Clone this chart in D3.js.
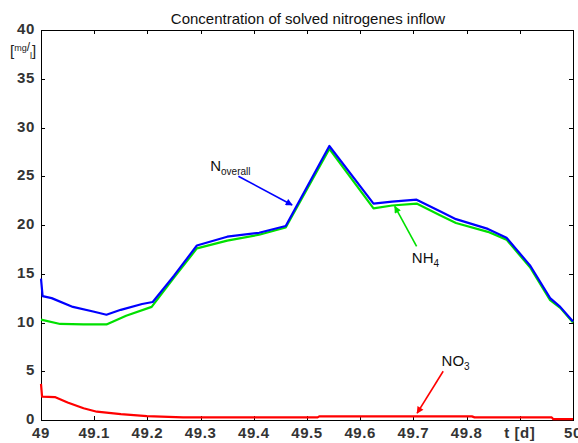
<!DOCTYPE html>
<html>
<head>
<meta charset="utf-8">
<script src="https://cdn.jsdelivr.net/npm/d3@7"></script>
<style>
  body { margin: 0; background: #fff; }
  text { font-family: Arial, "Liberation Sans", sans-serif; }
</style>
</head>
<body>
<div id="chart"></div>
<script>
// values
var tOverall = [49.0, 49.003, 49.02, 49.06, 49.1, 49.123, 49.15, 49.19, 49.21, 49.25, 49.293, 49.35, 49.41, 49.46, 49.542, 49.625, 49.66, 49.706, 49.75, 49.78, 49.84, 49.875, 49.92, 49.957, 49.976, 50.0];
var nOverall = [14.5, 12.7, 12.5, 11.6, 11.1, 10.8, 11.3, 11.9, 12.1, 14.8, 17.9, 18.8, 19.2, 19.9, 28.1, 22.2, 22.4, 22.6, 21.4, 20.6, 19.6, 18.7, 15.8, 12.5, 11.6, 10.1];

var tNH4 = [49.0, 49.036, 49.08, 49.123, 49.16, 49.208, 49.25, 49.293, 49.35, 49.41, 49.46, 49.542, 49.625, 49.66, 49.706, 49.75, 49.78, 49.84, 49.875, 49.92, 49.957, 49.976, 50.0];
var nh4 = [10.3, 9.85, 9.8, 9.8, 10.7, 11.6, 14.6, 17.6, 18.4, 19.0, 19.75, 27.8, 21.7, 22.0, 22.2, 21.0, 20.2, 19.3, 18.5, 15.6, 12.3, 11.5, 10.0];

var tNO3 = [49.0, 49.002, 49.026, 49.05, 49.08, 49.105, 49.15, 49.199, 49.267, 49.52, 49.523, 49.81, 49.815, 49.96, 49.963, 50.0];
var no3 = [3.7, 2.4, 2.35, 1.8, 1.2, 0.85, 0.6, 0.4, 0.27, 0.27, 0.37, 0.37, 0.27, 0.27, 0.08, 0.08];

var xTicks = [49, 49.1, 49.2, 49.3, 49.4, 49.5, 49.6, 49.7, 49.8, 49.9, 50];
var xTickLabels = ['49', '49.1', '49.2', '49.3', '49.4', '49.5', '49.6', '49.7', '49.8', 't [d]', '50'];
var yTicks = [0, 5, 10, 15, 20, 25, 30, 35, 40];

var W = 578, H = 443;
var margin = {left: 41, top: 30, right: 5, bottom: 23};

var svg = d3.select('#chart').append('svg')
    .attr('width', W)
    .attr('height', H);

var x = d3.scaleLinear().domain([49, 50]).range([margin.left, W - margin.right]);
var y = d3.scaleLinear().domain([0, 40]).range([H - margin.bottom, margin.top]);

// arrow heads
var defs = svg.append('defs');
[['blue', '#0000ff'], ['green', '#00e000'], ['red', '#ff0000']].forEach(function (m) {
    defs.append('marker')
        .attr('id', 'arr-' + m[0])
        .attr('viewBox', '0 0 10 10')
        .attr('refX', 9).attr('refY', 5)
        .attr('markerWidth', 8).attr('markerHeight', 7)
        .attr('markerUnits', 'userSpaceOnUse')
        .attr('orient', 'auto')
        .append('path')
        .attr('d', 'M0,0 L10,5 L0,10 z')
        .attr('fill', m[1]);
});

// box
svg.append('rect')
    .attr('x', x(49) + 0.5).attr('y', y(40) + 0.5)
    .attr('width', x(50) - x(49)).attr('height', y(0) - y(40))
    .attr('fill', 'none').attr('stroke', '#000').attr('stroke-width', 1);

// ticks, pointing inward, on all four sides
var tl = 4;
xTicks.forEach(function (t) {
    var px = Math.round(x(t)) + 0.5;
    svg.append('line').attr('x1', px).attr('x2', px).attr('y1', y(0)).attr('y2', y(0) - tl).attr('stroke', '#000');
    svg.append('line').attr('x1', px).attr('x2', px).attr('y1', y(40)).attr('y2', y(40) + tl).attr('stroke', '#000');
});
yTicks.forEach(function (v) {
    var py = Math.round(y(v)) + 0.5;
    svg.append('line').attr('x1', x(49)).attr('x2', x(49) + tl).attr('y1', py).attr('y2', py).attr('stroke', '#000');
    svg.append('line').attr('x1', x(50)).attr('x2', x(50) - tl).attr('y1', py).attr('y2', py).attr('stroke', '#000');
});

// tick labels
svg.append('g').selectAll('text')
    .data(xTicks)
    .enter().append('text')
    .attr('x', function (d) { return x(d); })
    .attr('y', y(0) + 18)
    .attr('text-anchor', 'middle')
    .attr('font-size', 15)
    .attr('font-weight', 'bold')
    .attr('letter-spacing', 0.6)
    .attr('fill', '#333')
    .text(function (d, i) { return xTickLabels[i]; });

svg.append('g').selectAll('text')
    .data(yTicks)
    .enter().append('text')
    .attr('x', x(49) - 6)
    .attr('y', function (d) { return y(d) + 4; })
    .attr('text-anchor', 'end')
    .attr('font-size', 15)
    .attr('font-weight', 'bold')
    .attr('letter-spacing', 0.6)
    .attr('fill', '#333')
    .text(function (d) { return d; });

// unit label [mg/l]
var unit = svg.append('text')
    .attr('x', 10).attr('y', 56)
    .attr('font-size', 15)
    .attr('fill', '#222');
unit.append('tspan').text('[');
unit.append('tspan').attr('font-size', 9).attr('dy', -5).text('mg');
unit.append('tspan').attr('font-size', 12).text('/');
unit.append('tspan').attr('font-size', 9).attr('dy', 8).text('l');
unit.append('tspan').attr('dy', -3).text(']');

// title
svg.append('text')
    .attr('x', (x(49) + x(50)) / 2 + 1)
    .attr('y', 24)
    .attr('text-anchor', 'middle')
    .attr('font-size', 15)
    .attr('fill', '#111')
    .text('Concentration of solved nitrogenes inflow');

// series
var line = d3.line()
    .x(function (d) { return x(d[0]); })
    .y(function (d) { return y(d[1]); });

function drawSeries(ts, vs, color) {
    svg.append('path')
        .datum(d3.zip(ts, vs))
        .attr('d', line)
        .attr('fill', 'none')
        .attr('stroke', color)
        .attr('stroke-width', 2.2)
        .attr('stroke-linejoin', 'round');
}
drawSeries(tNH4, nh4, '#00e000');
drawSeries(tOverall, nOverall, '#0000ff');
drawSeries(tNO3, no3, '#ff0000');

// annotations
function annotate(arrow, color, id, label, sub, tx, ty) {
    svg.append('line')
        .attr('x1', x(arrow[0])).attr('y1', y(arrow[1]))
        .attr('x2', x(arrow[2])).attr('y2', y(arrow[3]))
        .attr('stroke', color).attr('stroke-width', 1.6)
        .attr('marker-end', 'url(#arr-' + id + ')');
    var t = svg.append('text')
        .attr('x', x(tx)).attr('y', y(ty))
        .attr('font-size', 15)
        .attr('fill', '#111');
    t.append('tspan').text(label);
    t.append('tspan').attr('font-size', 10).attr('dy', 4).text(sub);
}
annotate([49.371, 25.0, 49.472, 22.05], '#0000ff', 'blue', 'N', 'overall', 49.318, 25.5);
annotate([49.706, 17.8, 49.665, 21.9], '#00e000', 'green', 'NH', '4', 49.697, 16.1);
annotate([49.756, 5.0, 49.707, 0.7], '#ff0000', 'red', 'NO', '3', 49.753, 5.55);
</script>
</body>
</html>
